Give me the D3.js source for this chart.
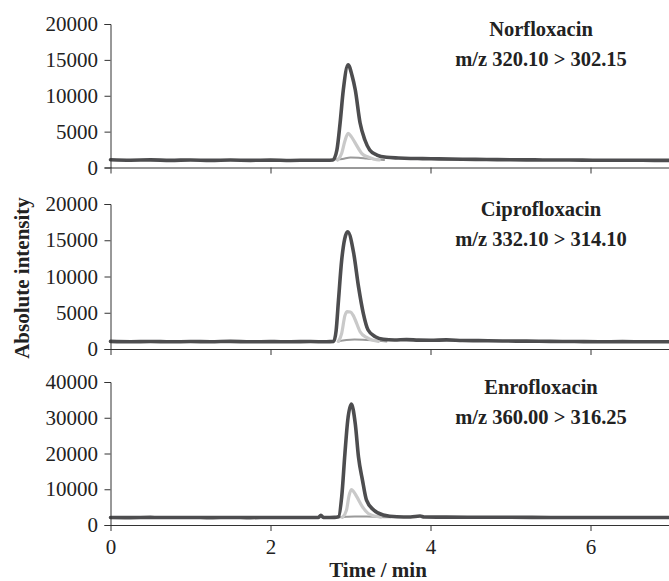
<!DOCTYPE html>
<html>
<head>
<meta charset="utf-8">
<script src="https://cdn.jsdelivr.net/npm/d3@7"></script>
<style>
  html, body { margin: 0; padding: 0; background: #fff; }
  svg { display: block; font-family: "Liberation Serif", "Times New Roman", serif; }
</style>
</head>
<body>
<svg id="chart" width="669" height="581"></svg>
<script>
// ---------- data ----------
const compounds = ["Norfloxacin", "Ciprofloxacin", "Enrofloxacin"];
const transitions = ["m/z 320.10 > 302.15", "m/z 332.10 > 314.10", "m/z 360.00 > 316.25"];
const yMaxima = [20000, 20000, 40000];
const yTicksSmall = [0, 5000, 10000, 15000, 20000];
const yTicksLarge = [0, 10000, 20000, 30000, 40000];
const timeTicks = [0, 2, 4, 6];
const timeMax = 7;

// [time (min), absolute intensity]
const norDark = [[0,1080],[0.25,1020],[0.5,1060],[0.75,1000],[1.0,1050],[1.25,990],[1.5,1040],[1.75,1000],[2.0,1030],[2.25,980],[2.5,1020],[2.7,1000],[2.78,1050],[2.83,2440],[2.87,6200],[2.91,10800],[2.97,14300],[3.02,12800],[3.06,10800],[3.12,6200],[3.18,3830],[3.24,2440],[3.33,1740],[3.45,1420],[3.6,1320],[3.75,1260],[3.9,1240],[4.1,1200],[4.4,1150],[4.7,1120],[5.0,1080],[5.3,1060],[5.6,1040],[5.9,1030],[6.2,1000],[6.5,1020],[6.8,990],[7.0,1000]];
const norLight = [[2.84,1050],[2.89,1980],[2.93,3700],[2.97,4770],[3.01,4300],[3.06,3400],[3.14,1980],[3.22,1460],[3.3,1150],[3.36,1050]];
const norMid = [[2.82,1100],[2.9,1200],[3.0,1400],[3.1,1350],[3.2,1250],[3.3,1150],[3.42,1050]];

const cipDark = [[0,1050],[0.25,1000],[0.5,1040],[0.75,990],[1.0,1030],[1.25,1000],[1.5,1050],[1.75,990],[2.0,1020],[2.25,1000],[2.5,1030],[2.7,990],[2.79,1050],[2.82,2500],[2.85,6760],[2.89,12280],[2.965,16180],[3.04,13200],[3.1,8600],[3.16,4920],[3.22,2620],[3.31,1700],[3.41,1340],[3.55,1250],[3.7,1300],[3.85,1220],[4.0,1200],[4.2,1260],[4.4,1180],[4.6,1150],[4.9,1100],[5.2,1080],[5.5,1050],[5.8,1030],[6.1,1000],[6.4,1020],[6.7,990],[7.0,1000]];
const cipLight = [[2.85,1050],[2.89,2160],[2.93,4600],[2.96,5150],[3.0,5100],[3.03,4700],[3.06,4000],[3.12,2390],[3.2,1600],[3.28,1200],[3.35,1050]];
const cipMid = [[2.84,1050],[2.95,1250],[3.05,1300],[3.2,1250],[3.35,1150],[3.45,1050]];

const enrDark = [[0,2100],[0.25,2050],[0.5,2120],[0.75,2080],[1.0,2100],[1.25,2060],[1.5,2110],[1.75,2070],[2.0,2100],[2.25,2080],[2.5,2090],[2.6,2100],[2.63,2700],[2.66,2100],[2.8,2120],[2.85,2300],[2.89,7860],[2.93,19900],[2.965,29200],[3.01,33800],[3.06,28250],[3.1,19000],[3.15,12500],[3.2,6940],[3.29,4170],[3.41,2780],[3.58,2300],[3.75,2250],[3.87,2500],[3.92,2250],[4.2,2200],[4.6,2150],[5.0,2150],[5.5,2100],[6.0,2080],[6.5,2100],[7.0,2080]];
const enrLight = [[2.9,2150],[2.95,4170],[2.98,8000],[3.01,9900],[3.04,9300],[3.08,7860],[3.15,5080],[3.22,3250],[3.3,2500],[3.38,2200]];
const enrMid = [[2.86,2150],[2.95,2300],[3.05,2400],[3.2,2350],[3.35,2250],[3.5,2150]];

const panelSeries = [
  [norMid, norLight, norDark],
  [cipMid, cipLight, cipDark],
  [enrMid, enrLight, enrDark]
];

// ---------- layout / style ----------
const panelBox = [[24, 167.5], [204, 349], [382, 525]];
const xLeft = 110.5, xRight = 670.5;
const seriesStyle = [
  { color: "#9a9a9a", width: 2 },
  { color: "#c9c9c9", width: 3.2 },
  { color: "#4d4d4f", width: 3.6 }
];
const axisColor = "#333";
const textColor = "#222";

const svg = d3.select("#chart");
const x = d3.scaleLinear().domain([0, timeMax]).range([xLeft, xRight]);

panelSeries.forEach((series, i) => {
  const [top, bottom] = panelBox[i];
  const y = d3.scaleLinear().domain([0, yMaxima[i]]).range([bottom, top]);
  const g = svg.append("g");

  const line = d3.line().x(d => x(d[0])).y(d => y(d[1])).curve(d3.curveMonotoneX);
  series.forEach((s, k) => {
    g.append("path").datum(s)
      .attr("fill", "none")
      .attr("stroke", seriesStyle[k].color)
      .attr("stroke-width", seriesStyle[k].width)
      .attr("stroke-linejoin", "round")
      .attr("stroke-linecap", "round")
      .attr("d", line);
  });

  const xa = g.append("g").attr("transform", `translate(0,${bottom})`)
    .call(d3.axisBottom(x).tickValues(timeTicks).tickSize(6).tickSizeOuter(0).tickPadding(8)
      .tickFormat(i === 2 ? d3.format("d") : () => ""));
  const ya = g.append("g").attr("transform", `translate(${xLeft},0)`)
    .call(d3.axisLeft(y).tickValues(i === 2 ? yTicksLarge : yTicksSmall).tickSize(6).tickPadding(6.5)
      .tickFormat(d3.format("d")));
  [xa, ya].forEach(a => {
    a.selectAll("path, line").attr("stroke", axisColor).attr("stroke-width", 1);
    a.selectAll("text").attr("fill", textColor).style("font-size", "21px")
      .style("font-family", '"Liberation Serif", "Times New Roman", serif');
  });

  g.append("text").attr("x", 541).attr("y", top + 11.5)
    .attr("text-anchor", "middle").attr("font-weight", "bold").attr("font-size", "20.5px")
    .attr("fill", textColor).text(compounds[i]);
  g.append("text").attr("x", 541).attr("y", top + 42)
    .attr("text-anchor", "middle").attr("font-weight", "bold").attr("font-size", "20.5px")
    .attr("fill", textColor).text(transitions[i]);
});

svg.append("text").attr("x", 378).attr("y", 577)
  .attr("text-anchor", "middle").attr("font-weight", "bold").attr("font-size", "21px")
  .attr("fill", textColor).text("Time / min");
svg.append("text").attr("transform", "translate(29,278) rotate(-90)")
  .attr("text-anchor", "middle").attr("font-weight", "bold").attr("font-size", "21px")
  .attr("fill", textColor).text("Absolute intensity");
</script>
</body>
</html>
